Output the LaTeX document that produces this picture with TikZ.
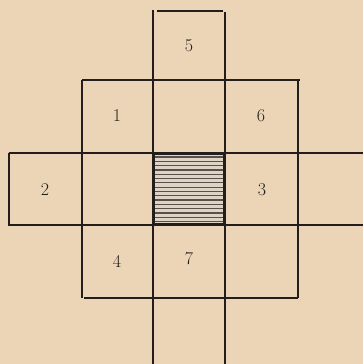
\documentclass[tikz,border=0pt]{standalone}
\usepackage{xcolor}
\definecolor{paper}{RGB}{236,213,182}
\definecolor{ink}{RGB}{35,30,27}
\definecolor{hatchbg}{RGB}{222,212,198}
\definecolor{hatch}{RGB}{90,80,74}
\tikzset{
  grid line/.style={draw=ink, line width=2.2pt},
  num/.style={font=\fontsize{18}{21}\selectfont, text=ink, inner sep=0pt}
}
\begin{document}
\begin{tikzpicture}[x=1pt,y=-1pt]
\fill[paper] (0,0) rectangle (363,364);
\useasboundingbox (0,0) rectangle (363,364);
% hatched square
\fill[hatchbg] (153,153) rectangle (225,225);
\foreach \i in {0,...,15} {
  \draw[hatch, line width=1.2pt] (155,{157+\i*4.3}) -- (223,{157+\i*4.3});
}
\draw[ink, line width=2.8pt] (154,154) rectangle (224,224);
% grid lines
\draw[grid line] (82,80) -- (300,80);
\draw[grid line] (9,153) -- (363,153);
\draw[grid line] (9,225) -- (363,225);
\draw[grid line] (84,298) -- (298,298);
\draw[grid line] (157,11) -- (223,11);
\draw[grid line] (9,153) -- (9,226);
\draw[grid line] (82,80) -- (82,298);
\draw[grid line] (153,10) -- (153,364);
\draw[grid line] (225,12) -- (225,364);
\draw[grid line] (298,80) -- (298,298);
% labels
\node[num] (n5) at (189,46) {5};
\node[num] (n1) at (117,116) {1};
\node[num] (n6) at (261,116) {6};
\node[num] (n2) at (45,190) {2};
\node[num] (n3) at (262,190) {3};
\node[num] (n4) at (117,261) {4};
\node[num] (n7) at (189,259) {7};
\end{tikzpicture}
\end{document}
